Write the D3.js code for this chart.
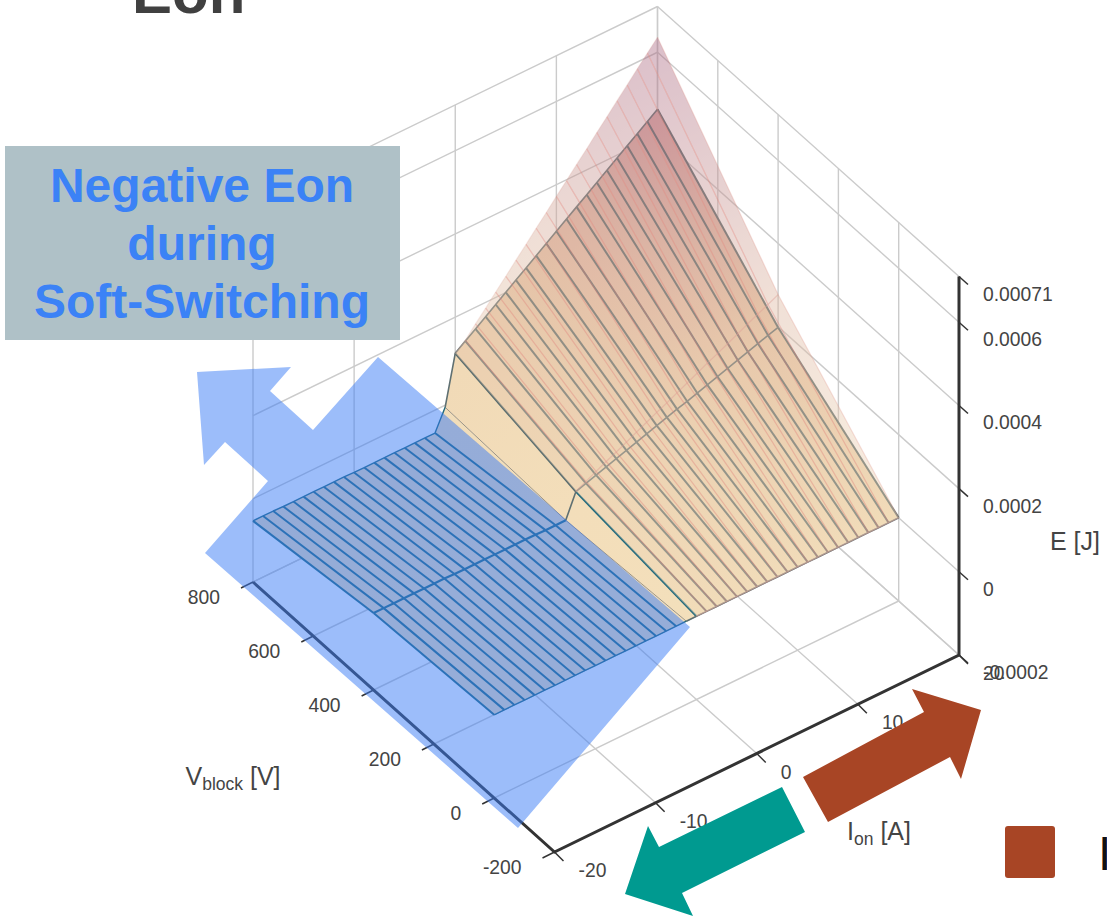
<!DOCTYPE html>
<html><head><meta charset="utf-8">
<script src="https://cdnjs.cloudflare.com/ajax/libs/d3/7.8.5/d3.min.js"></script>
<style>html,body{margin:0;padding:0;background:#fff;overflow:hidden}svg{display:block}text{font-family:"Liberation Sans",Arial,sans-serif}</style>
</head><body>
<script>
// ---- data (energies in microjoules) ----
const currents = [-20,-19,-18,-17,-16,-15,-14,-13,-12,-11,-10,-9,-8,-7,-6,-5,-4,-3,-2,-1,0,1,2,3,4,5,6,7,8,9,10,11,12,13,14,15,16,17,18,19,20];
const voltages = [0,400,800];
const lowerAt800 = [-53,-53,-53,-54,-54,-54,-54,-54,-54,-54,-55,-55,-55,-55,-55,-55,-55,-55,-55,-5,113,130.5,148,165.5,183,200.5,218,235.5,253,270.5,288,305.5,323,340.5,358,375.5,393,410.5,428,445.5,463];
const lowerAt400 = [-15,-15,-15,-15,-15,-15,-15,-15,-16,-16,-16,-16,-16,-16,-16,-16,-16,-17,-17,-17,40,48,56,64,72,80,88,96,104,112,120,127,135,143,151,159,167,175,183,191,198];
const lowerAt0   = [0,0,0,0,0,0,0,0,0,0,0,0,0,0,0,0,0,0,0,0,0,0,0,0,0,0,0,0,0,0,0,0,0,0,0,0,0,0,0,0,0];
const upperCurrents = [0,1,2,3,4,5,6,7,8,9,10,11,12,13,14,15,16,17,18,19,20];
const upperAt800 = [113,133,160,186,213,239,266,292,319,345,372,398,425,451,478,504,531,557,584,610,636];
const upperAt400 = [41,53,65,77,88,100,112,124,136,147,159,171,183,195,206,218,230,242,254,265,277];
const upperAt0   = [0,0,0,0,0,0,0,0,0,0,0,0,0,0,0,0,0,0,0,0,0];
const ionTicks = [-20,-10,0,10,20];
const vTicks = [-200,0,200,400,600,800];
const eTicks = [-200,0,200,400,600,710];
const eLabels = ["-0.0002","0","0.0002","0.0004","0.0006","0.00071"];
const boxLines = ["Negative Eon","during","Soft-Switching"];

// ---- oblique axis scales ----
const iX = d3.scaleLinear().domain([-20,20]).range([0,404.5]);
const iY = d3.scaleLinear().domain([-20,20]).range([0,-197]);
const vX = d3.scaleLinear().domain([-200,800]).range([554.5,253]);
const vY = d3.scaleLinear().domain([-200,800]).range([852,582]);
const eY = d3.scaleLinear().domain([-200,710]).range([0,-378.5]);
const P = (i,v,e=-200)=>[iX(i)+vX(v), iY(i)+vY(v)+eY(e)];

const lowerColor = d3.scaleLinear().domain([-60,0,200,463]).range(["#eedab8","#f3dfbb","#ecceae","#d8a6a6"]);
const upperColor = d3.scaleLinear().domain([0,300,640]).range(["#f0d8b8","#dcb49e","#a86481"]);

const svg = d3.select("body").append("svg").attr("width",1107).attr("height",916);
const defs = svg.append("defs");
const line = d3.line();
const GRID="#cbcbcb", INK="#333", LAB="#444";

// ---- grid: walls and floor ----
const g = svg.append("g").attr("fill","none").attr("stroke",GRID).attr("stroke-width",1.4);
const seg=(sel,a,b)=>sel.append("path").attr("d",line([a,b]));
ionTicks.forEach(i=>{ seg(g,P(i,-200),P(i,800)); seg(g,P(i,800),P(i,800,710)); });
vTicks.forEach(v=>{ seg(g,P(-20,v),P(20,v)); seg(g,P(20,v),P(20,v,710)); });
eTicks.forEach(e=>{ seg(g,P(-20,800,e),P(20,800,e)); seg(g,P(20,800,e),P(20,-200,e)); });

// ---- surfaces ----
let gid=0;
function surface(parent,Is,rows,color){
  for(let r=0;r<voltages.length-1;r++){
    const v0=voltages[r],v1=voltages[r+1];
    for(let k=0;k<Is.length-1;k++){
      const a=Is[k],b=Is[k+1];
      const e00=rows[r][k],e01=rows[r][k+1],e10=rows[r+1][k],e11=rows[r+1][k+1];
      const id="gr"+(gid++);
      const m0=P((a+b)/2,v0,(e00+e01)/2), m1=P((a+b)/2,v1,(e10+e11)/2);
      const gr=defs.append("linearGradient").attr("id",id).attr("gradientUnits","userSpaceOnUse")
        .attr("x1",m0[0]).attr("y1",m0[1]).attr("x2",m1[0]).attr("y2",m1[1]);
      gr.append("stop").attr("offset",0).attr("stop-color",color((e00+e01)/2));
      gr.append("stop").attr("offset",1).attr("stop-color",color((e10+e11)/2));
      parent.append("path").attr("d",line([P(a,v0,e00),P(b,v0,e01),P(b,v1,e11),P(a,v1,e10)])+"Z").attr("fill",`url(#${id})`);
    }
  }
}
const lowerRows=[lowerAt0,lowerAt400,lowerAt800], upperRows=[upperAt0,upperAt400,upperAt800];
surface(svg.append("g"),currents,lowerRows,lowerColor);

// lower surface mesh
const lowerMesh=svg.append("g").attr("fill","none").attr("stroke-linejoin","round");
currents.forEach((c,k)=>{
  const col = c<-1 ? "#1e687b" : (c===-1 ? "#9a9488" : "#566a6c");
  for(let r=0;r<2;r++){
    const stroke = (c===0&&r===0) ? "#1e687b" : col;
    lowerMesh.append("path").attr("stroke",stroke).attr("stroke-width",c===-1?1:2)
      .attr("d",line([P(c,voltages[r],lowerRows[r][k]),P(c,voltages[r+1],lowerRows[r+1][k])]));
  }
});
lowerRows.forEach((row,r)=>{
  lowerMesh.append("path").attr("stroke","#5f7072").attr("stroke-width",1.6)
    .attr("d",line(currents.filter(c=>c>=-1).map(c=>P(c,voltages[r],row[currents.indexOf(c)]))));
  lowerMesh.append("path").attr("stroke","#1e687b").attr("stroke-width",r===1?2.2:1.4)
    .attr("d",line(currents.filter(c=>c<=-1).map(c=>P(c,voltages[r],row[currents.indexOf(c)]))));
});

// upper translucent surface
surface(svg.append("g").attr("opacity",0.42),upperCurrents,upperRows,upperColor);
const upperMesh=svg.append("g").attr("fill","none");
upperCurrents.forEach((c,k)=>{
  if(c===0) return;
  upperMesh.append("path").attr("stroke","#e08a80").attr("stroke-width",1.2).attr("stroke-opacity",c===20?0.25:0.45)
    .attr("d",line(voltages.map((v,r)=>P(c,v,upperRows[r][k]))));
});
upperRows.forEach((row,r)=>{
  upperMesh.append("path").attr("stroke","#dda298").attr("stroke-width",1.2).attr("stroke-opacity",r===2?0.2:0.5)
    .attr("d",line(upperCurrents.map((c,k)=>P(c,voltages[r],row[k]))));
});

// ---- axes ----
const ax=svg.append("g").attr("fill","none").attr("stroke",INK);
ax.append("path").attr("stroke-width",3).attr("d",line([P(-20,800),P(-20,-200),P(20,-200),P(20,-200,710)]));
vTicks.forEach(v=>{const p=P(-20,v);ax.append("path").attr("stroke-width",1.5).attr("d",line([p,[p[0]-12,p[1]+6]]));});
ionTicks.forEach(i=>{const p=P(i,-200);ax.append("path").attr("stroke-width",1.5).attr("d",line([p,[p[0]+9,p[1]+9]]));});
eTicks.forEach(e=>{const p=P(20,-200,e);ax.append("path").attr("stroke-width",1.5).attr("d",line([p,[p[0]+9,p[1]+8]]));});

const tl=svg.append("g").attr("fill",LAB).attr("font-size",19.3);
vTicks.forEach(v=>{const p=P(-20,v);tl.append("text").attr("x",p[0]-33).attr("y",p[1]+21.5).attr("text-anchor","end").text(v);});
ionTicks.forEach(i=>{const p=P(i,-200);tl.append("text").attr("x",p[0]+24).attr("y",p[1]+25).text(i);});
eTicks.forEach((e,k)=>{const p=P(20,-200,e);tl.append("text").attr("x",983).attr("y",p[1]+(e===710?24:24)).text(eLabels[k]);});

function subLabel(x,y,a,b,c){
  const t=svg.append("text").attr("x",x).attr("y",y).attr("fill",LAB).attr("font-size",25).attr("text-anchor","middle");
  t.append("tspan").text(a);
  t.append("tspan").attr("font-size",17.5).attr("dy",5).text(b);
  t.append("tspan").attr("dy",-5).text(c);
}
subLabel(233,785,"V","block"," [V]");
subLabel(879,840,"I","on"," [A]");
svg.append("text").attr("x",1075).attr("y",550).attr("fill",LAB).attr("font-size",25).attr("text-anchor","middle").text("E [J]");

// ---- annotations ----
svg.append("text").attr("x",132).attr("y",13).attr("fill","#404040").attr("font-size",60).attr("font-weight",700).text("Eon");
const poly=(pts,fill,op)=>svg.append("path").attr("d",line(pts)+"Z").attr("fill",fill).attr("fill-opacity",op);
poly([[378,357],[690,627],[518,828],[205,553],[268,481],[225,442],[204,465],[197,372],[291,367],[270,391],[313,430]],"#3a7cf5",0.5);
poly([[803,777],[828,822],[950,757],[961,779],[981,710],[912,689],[924,712]],"#a84525",1);
poly([[782,787],[805,832],[682,893],[693,916],[625,894],[648,826],[659,847]],"#009a90",1);
svg.append("rect").attr("x",5).attr("y",146).attr("width",395).attr("height",194).attr("fill","#afc1c7");
boxLines.forEach((s,k)=>svg.append("text").attr("x",202).attr("y",202+58*k).attr("text-anchor","middle").attr("fill","#3b82f6").attr("font-size",48).attr("font-weight",700).text(s));
svg.append("rect").attr("x",1005).attr("y",826).attr("width",50).attr("height",52).attr("rx",3).attr("fill","#a84525");
svg.append("text").attr("x",1098).attr("y",870).attr("font-size",48).attr("fill","#111").text("I");
</script>
</body></html>
